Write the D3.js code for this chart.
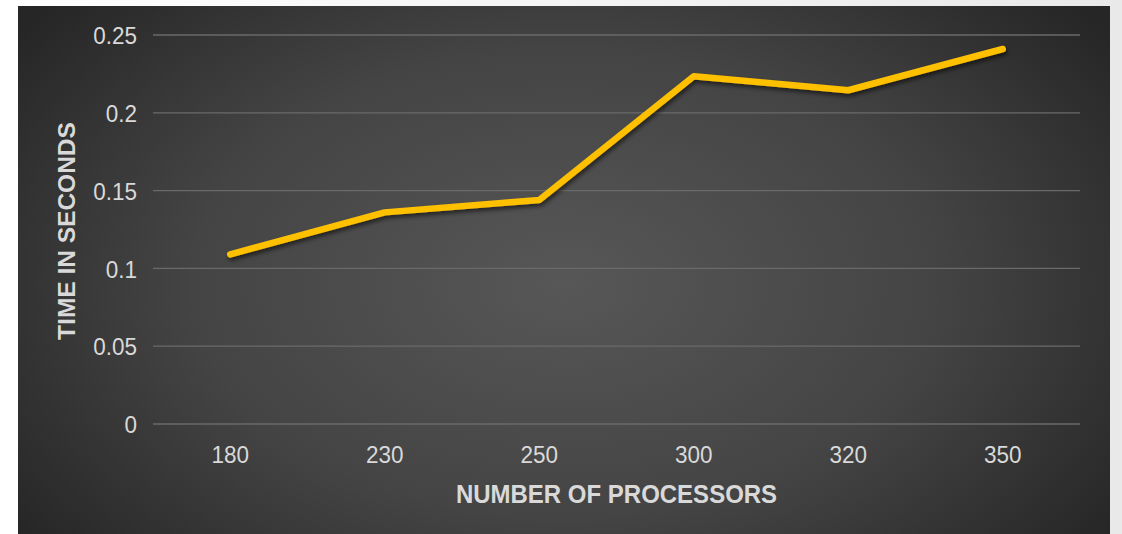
<!DOCTYPE html>
<html>
<head>
<meta charset="utf-8">
<script src="https://cdn.jsdelivr.net/npm/d3@7"></script>
<style>
  html, body { margin: 0; padding: 0; background: #f6f6f6; }
  svg { display: block; }
</style>
</head>
<body>
<svg id="chart" width="1122" height="534"></svg>
<script>
const processors = ["180", "230", "250", "300", "320", "350"];
const seconds = [0.109, 0.136, 0.144, 0.2235, 0.2145, 0.241];
const yTicks = [0, 0.05, 0.1, 0.15, 0.2, 0.25];
const yTickLabels = ["0", "0.05", "0.1", "0.15", "0.2", "0.25"];

const svg = d3.select("#chart");
const W = 1122, H = 534;
const panel = { x: 18, y: 6, w: 1092, h: 528 };
const plot = { left: 153, right: 1080, top: 35, bottom: 424 };

const defs = svg.append("defs");
const outer = defs.append("linearGradient").attr("id", "outerBg")
  .attr("x1", 0).attr("x2", 1).attr("y1", 0).attr("y2", 0);
outer.append("stop").attr("offset", "0%").attr("stop-color", "#ffffff");
outer.append("stop").attr("offset", "100%").attr("stop-color", "#e9e9e9");

const rg = defs.append("radialGradient").attr("id", "panelBg")
  .attr("cx", "50%").attr("cy", "52%").attr("r", "62%")
  .attr("gradientUnits", "objectBoundingBox")
  .attr("gradientTransform", "translate(0.5,0.5) scale(1,1.3) translate(-0.5,-0.5)");
rg.append("stop").attr("offset", "0%").attr("stop-color", "#575757");
rg.append("stop").attr("offset", "55%").attr("stop-color", "#444444");
rg.append("stop").attr("offset", "100%").attr("stop-color", "#262626");

const shadow = defs.append("filter").attr("id", "lineShadow")
  .attr("x", "-10%").attr("y", "-20%").attr("width", "120%").attr("height", "140%");
shadow.append("feDropShadow").attr("dx", 1.5).attr("dy", 3).attr("stdDeviation", 2.2)
  .attr("flood-color", "#000").attr("flood-opacity", 0.55);

svg.append("rect").attr("width", W).attr("height", H).attr("fill", "url(#outerBg)");
svg.append("rect").attr("x", panel.x).attr("y", panel.y)
  .attr("width", panel.w).attr("height", panel.h).attr("fill", "url(#panelBg)");

const x = d3.scaleBand().domain(processors).range([plot.left, plot.right]);
const y = d3.scaleLinear().domain([0, 0.25]).range([plot.bottom, plot.top]);

// horizontal gridlines
svg.append("g").selectAll("line").data(yTicks).join("line")
  .attr("x1", plot.left).attr("x2", plot.right)
  .attr("y1", d => y(d)).attr("y2", d => y(d))
  .attr("stroke", "#6a6a6a").attr("stroke-width", 1.3);

const font = "Arial, 'Liberation Sans', sans-serif";
const labelColor = "#d9d9d9";
const tickSize = 22.5;
const stretch = 1.08;

// y axis: value labels right-aligned beside the gridlines
const yAxis = svg.append("g").attr("transform", `translate(${plot.left - 16},0)`)
  .call(d3.axisLeft(y).tickValues(yTicks).tickSize(0).tickPadding(0)
    .tickFormat((d, i) => yTickLabels[i]));
yAxis.select(".domain").remove();
yAxis.selectAll("text").attr("fill", labelColor).style("font-family", font)
  .style("font-size", tickSize + "px").attr("x", 0).attr("y", 0).attr("dy", 0)
  .attr("transform", `translate(0,${0.358 * tickSize * stretch}) scale(1,${stretch})`);

// x axis: category labels under the plot
const xAxis = svg.append("g").attr("transform", `translate(0,463)`)
  .call(d3.axisBottom(x).tickSize(0).tickPadding(0));
xAxis.select(".domain").remove();
xAxis.selectAll("text").attr("fill", labelColor).style("font-family", font)
  .style("font-size", tickSize + "px").attr("y", 0).attr("dy", 0)
  .attr("transform", `scale(1,${stretch})`);

// axis titles
svg.append("text")
  .attr("transform", `translate(${(plot.left + plot.right) / 2},503) scale(1,${stretch})`)
  .attr("text-anchor", "middle").attr("fill", labelColor)
  .style("font-family", font).style("font-size", "24px").style("font-weight", "bold")
  .text("NUMBER OF PROCESSORS");
svg.append("text")
  .attr("transform", `translate(75,231) rotate(-90)`)
  .attr("text-anchor", "middle").attr("fill", labelColor)
  .style("font-family", font).style("font-size", "24.5px").style("font-weight", "bold")
  .text("TIME IN SECONDS");

// series line
const line = d3.line()
  .x((d, i) => x(processors[i]) + x.bandwidth() / 2)
  .y(d => y(d));
svg.append("path").datum(seconds).attr("d", line)
  .attr("fill", "none").attr("stroke", "#ffc000").attr("stroke-width", 6.5)
  .attr("stroke-linecap", "round").attr("stroke-linejoin", "round")
  .attr("filter", "url(#lineShadow)");
</script>
</body>
</html>
